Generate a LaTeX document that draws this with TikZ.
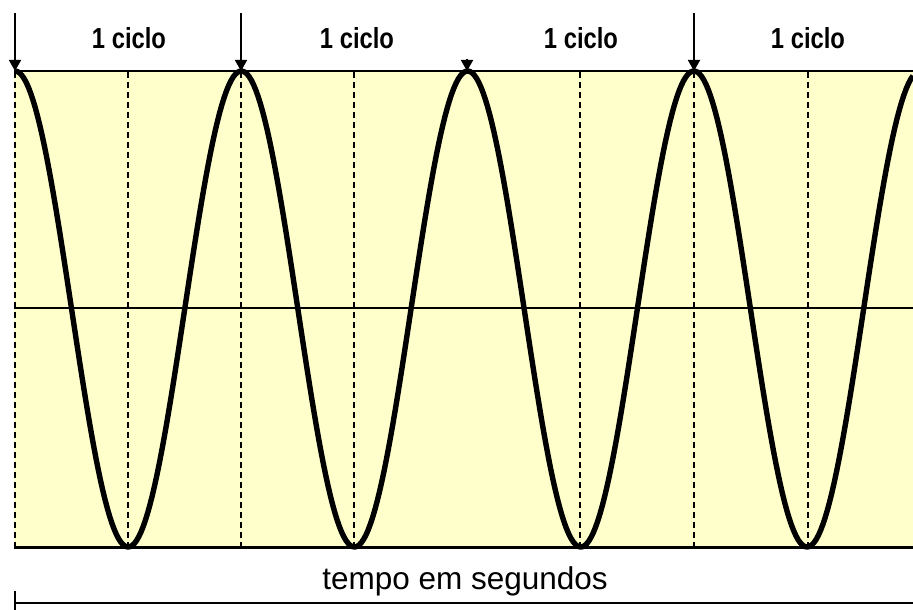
\documentclass[tikz,border=0pt]{standalone}
\usepackage{fontspec}
\usepackage{graphicx}
\setmainfont{Liberation Sans}
\usetikzlibrary{arrows.meta}
\definecolor{paleyellow}{RGB}{255,255,204}
\tikzset{
  dashline/.style={line width=1.1pt, dash pattern=on 6pt off 4pt},
  wave/.style={line width=5.4pt, line join=round},
  cyclearrow/.style={line width=1.8pt, -{Triangle[length=11pt,width=12pt]}},
  cyclelabel/.style={font=\fontsize{29}{29}\selectfont\bfseries, inner sep=0pt},
  timelabel/.style={font=\fontsize{31.5}{31.5}\selectfont, inner sep=0pt}
}
\begin{document}
\begin{tikzpicture}[x=1pt,y=-1pt]
\useasboundingbox (0,0) rectangle (913,610);
% background box
\fill[paleyellow] (14,71) rectangle (913,547);
% dashed verticals
\foreach \xx in {15,128,241,354,580,694,808}{
  \draw[dashline] (\xx,72) -- (\xx,546);
}
% middle line
\coordinate (ml) at (14,308);
\coordinate (mr) at (913,308);
\draw[line width=1.1pt] (ml) -- (mr);
% wave
\draw[wave] plot[domain=15:913, samples=400] (\x, {309-238*cos(1.59081*(\x-15))});
% top and bottom lines
\coordinate (tl) at (14,71);
\coordinate (tr) at (913,71);
\coordinate (bl) at (14,547);
\coordinate (br) at (913,547);
\draw[line width=2.2pt] (tl) -- (tr);
\draw[line width=3pt] (bl) -- (br);
% arrows
\foreach \xx/\nm in {15/a,241/b,694/d}{
  \coordinate (\nm top) at (\xx,13);
  \coordinate (\nm tip) at (\xx,71);
  \draw[cyclearrow] (\nm top) -- (\nm tip);
}
\coordinate (ctop) at (467,59);
\coordinate (ctip) at (467,71);
\draw[cyclearrow] (ctop) -- (ctip);
% labels
\foreach \xx/\nm in {129/l1,357/l2,581/l3,808/l4}{
  \node[cyclelabel] (\nm) at (\xx,38) {\scalebox{0.82}[1]{1 ciclo}};
}
\node[timelabel] (tempo) at (465,581) {tempo em segundos};
% time axis
\coordinate (axl) at (15,603);
\coordinate (axr) at (913,603);
\coordinate (tickt) at (15,591);
\coordinate (tickb) at (15,610);
\draw[line width=2.6pt] (axl) -- (axr);
\draw[line width=2pt] (tickt) -- (tickb);
\end{tikzpicture}
\end{document}
